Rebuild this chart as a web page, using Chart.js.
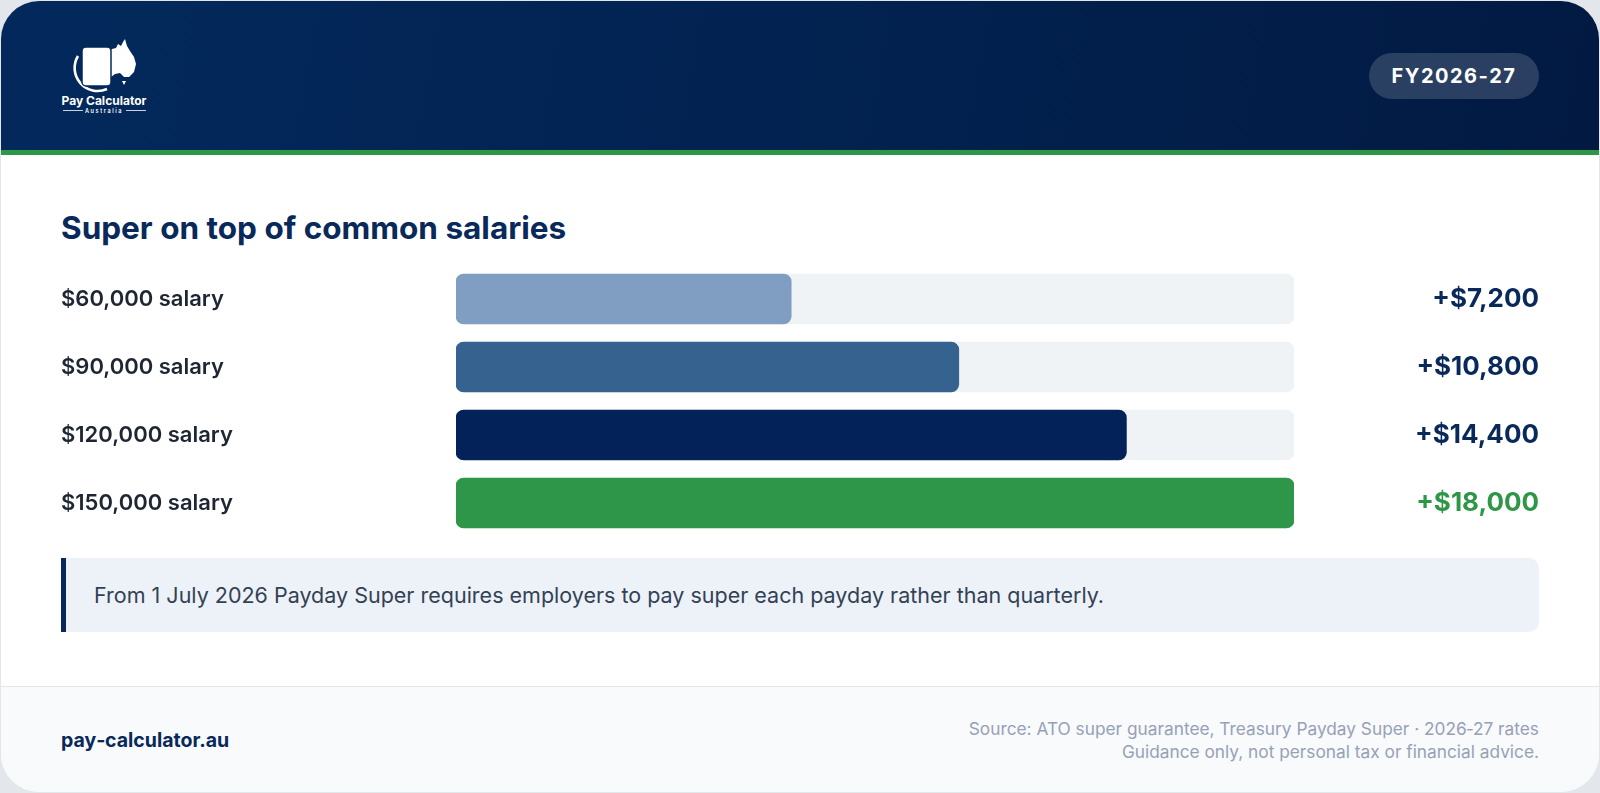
<!DOCTYPE html>
<html>
<head>
<meta charset="utf-8">
<script src="https://cdn.jsdelivr.net/npm/chart.js@4.4.1/dist/chart.umd.min.js"></script>
<style>
  html, body { margin: 0; padding: 0; }
  body { width: 1600px; height: 793px; background: #e3e6eb; font-family: Inter, "Noto Sans", sans-serif; position: relative; overflow: hidden; }
  .card { position: absolute; left: 1px; top: 1px; width: 1598px; height: 791px; background: #fff; border-radius: 38px; overflow: hidden; }
  .header { position: absolute; left: 0; top: 0; width: 100%; height: 149px; background: linear-gradient(100deg, #03295c 0%, #022352 45%, #021a42 100%); border-bottom: 5px solid #2e9747; }
  .badge { position: absolute; left: 1368px; top: 52px; width: 170px; height: 46px; border-radius: 23px; background: rgba(255,255,255,0.16); color: #fff; font-weight: 700; font-size: 20px; letter-spacing: 1.5px; line-height: 46px; text-align: center; }
  .logo { position: absolute; left: 54px; top: 34px; }
  .title { position: absolute; left: 60px; top: 209px; font-size: 31.5px; font-weight: 700; color: #08295a; line-height: 36px; white-space: nowrap; }
  .chart-box { position: absolute; left: 60px; top: 264px; width: 1478px; height: 272px; }
  .note { position: absolute; left: 60px; top: 557px; width: 1473px; height: 74px; background: #edf2f8; border-left: 5px solid #08295a; border-radius: 0 10px 10px 0; }
  .note span { position: absolute; left: 28px; top: 0; line-height: 74px; font-size: 21.5px; color: #334155; white-space: nowrap; }
  .footer { position: absolute; left: 0; top: 685px; width: 100%; height: 110px; background: #f8fafc; border-top: 1px solid #e3e8ee; }
  .site { position: absolute; left: 60px; top: 40px; font-size: 19.5px; font-weight: 700; color: #08295a; line-height: 26px; }
  .source { position: absolute; right: 60px; top: 30px; text-align: right; font-size: 17.3px; color: #97a1b6; line-height: 23px; white-space: nowrap; }
</style>
</head>
<body>
<div class="card">
  <div class="header">
    <svg class="logo" width="100" height="82" viewBox="54 34 100 82">
      <path d="M107 53 L111 48 L115 47 L117 43 L120 45 L122 41 L124 38 L126 45 L129 50 L133 56 L135 63 L133 71 L128 76 L123 76 L119 72 L114 73 L110 76 L106 74 L105 66 Z" fill="#fff"/>
      <path d="M121 80 L125 80 L123 84 Z" fill="#fff"/>
      <path d="M77 55 A 23 23 0 0 0 106 88" fill="none" stroke="#fff" stroke-width="2.6"/>
      <rect x="81" y="46" width="29" height="39" rx="4" fill="#fff" stroke="#03295c" stroke-width="1.5"/>
      <text x="103" y="104" text-anchor="middle" font-family="Inter" font-weight="700" font-size="12" fill="#fff">Pay Calculator</text>
      <line x1="62" y1="109.5" x2="82" y2="109.5" stroke="#fff" stroke-width="0.8"/>
      <line x1="125" y1="109.5" x2="145" y2="109.5" stroke="#fff" stroke-width="0.8"/>
      <text x="103" y="111.5" text-anchor="middle" font-family="Inter" font-weight="600" font-size="5.5" letter-spacing="1.6" fill="#fff">Australia</text>
    </svg>
    <div class="badge">FY2026‑27</div>
  </div>

  <div class="title">Super on top of common salaries</div>

  <div class="chart-box"><canvas id="superChart"></canvas></div>

  <div class="note"><span>From 1 July 2026 Payday Super requires employers to pay super each payday rather than quarterly.</span></div>

  <div class="footer">
    <div class="site">pay‑calculator.au</div>
    <div class="source">Source: ATO super guarantee, Treasury Payday Super · 2026‑27 rates<br>Guidance only, not personal tax or financial advice.</div>
  </div>
</div>

<script>
// salary rows and the super added on top
const salaryLabels = ['$60,000 salary', '$90,000 salary', '$120,000 salary', '$150,000 salary'];
const superAmounts = [7200, 10800, 14400, 18000];
const valueLabels = ['+$7,200', '+$10,800', '+$14,400', '+$18,000'];
const trackMax = 18000;

const barColors = ['#7f9ec2', '#35628f', '#04225a', '#2d9648'];
const valueColors = ['#08295a', '#08295a', '#08295a', '#2e9747'];

const ctx = document.getElementById('superChart').getContext('2d');

const superChart = new Chart(ctx, {
    type: 'bar',
    data: {
        labels: salaryLabels,
        datasets: [
            {
                label: 'Super',
                data: superAmounts,
                backgroundColor: barColors,
                borderRadius: 8,
                borderSkipped: false,
                barThickness: 50,
                grouped: false,
                order: 0
            },
            {
                // grey track behind each bar
                label: 'Track',
                data: salaryLabels.map(() => trackMax),
                backgroundColor: '#eff3f6',
                borderRadius: 8,
                borderSkipped: false,
                barThickness: 50,
                grouped: false,
                order: 1
            }
        ]
    },
    options: {
        indexAxis: 'y',
        responsive: true,
        maintainAspectRatio: false,
        animation: false,
        layout: { padding: 0 },
        scales: {
            x: { display: false, min: 0, max: trackMax },
            y: {
                position: 'left',
                grid: { display: false, drawTicks: false },
                border: { display: false },
                ticks: {
                    crossAlign: 'far',
                    padding: 0,
                    autoSkip: false,
                    color: '#1e2533',
                    // lineHeight 0 keeps the labels from eating into the row space
                    font: { family: 'Inter', size: 22, weight: '600', lineHeight: 0 }
                },
                afterFit: function(scale) { scale.width = 395; }
            },
            y2: {
                type: 'category',
                labels: valueLabels,
                position: 'right',
                grid: { display: false, drawTicks: false },
                border: { display: false },
                ticks: {
                    crossAlign: 'far',
                    padding: 0,
                    autoSkip: false,
                    color: function(c) { return valueColors[c.index]; },
                    font: { family: 'Inter', size: 26, weight: '700', lineHeight: 0 }
                },
                afterFit: function(scale) { scale.width = 245; }
            }
        },
        plugins: {
            legend: { display: false },
            tooltip: { enabled: false }
        }
    }
});
</script>
</body>
</html>
